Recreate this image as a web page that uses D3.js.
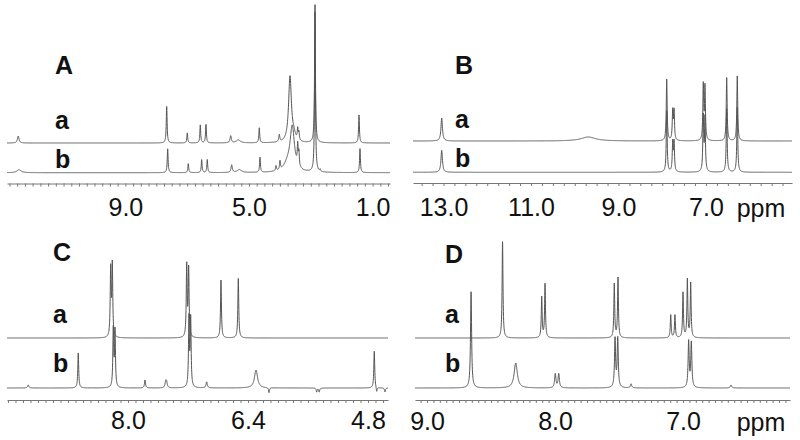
<!DOCTYPE html>
<html><head><meta charset="utf-8">
<script src="https://cdn.jsdelivr.net/npm/d3@7"></script>
<style>body{margin:0;background:#fff}svg{display:block}</style>
</head><body><svg id="c" width="800" height="440"></svg>
<script>
// ---------- data ----------
const panelNames = ["A", "B", "C", "D"];
const traceNames = ["a", "b"];
const tickLabelsA = [9.0, 5.0, 1.0];
const tickLabelsB = [13.0, 11.0, 9.0, 7.0];
const tickLabelsC = [8.0, 6.4, 4.8];
const tickLabelsD = [9.0, 8.0, 7.0];
const unitLabel = "ppm";
// peaks: [ppm, height, half-width (ppm)]
const peaksAa = [[12.466,7,0.03],[7.663,37,0.016],[6.997,10,0.016],[6.576,18,0.016],[6.392,18.5,0.016],
  [5.592,7,0.025],[5.346,3,0.08],[4.667,15,0.016],[4.019,7,0.02],[3.673,66,0.055],[3.55,6,0.06],
  [3.424,11,0.016],[3.385,8,0.016],[2.864,138,0.016],[1.44,28,0.016]];
const peaksAb = [[12.443,3,0.08],[7.631,24,0.016],[6.964,9,0.016],[6.531,13,0.016],[6.35,13,0.016],
  [5.56,7.5,0.025],[5.314,3,0.08],[4.644,15,0.016],[4.126,5,0.016],[3.997,8.5,0.016],[3.60,44,0.085],
  [3.75,7,0.15],[3.424,20,0.016],[3.385,14,0.016],[2.864,160,0.016],[2.70,2,0.016],[1.408,24,0.016]];
const peaksBa = [[13.041,23,0.02],[9.69,4,0.2],[7.898,62,0.012],[7.761,29,0.012],[7.73,29,0.012],
  [7.062,55,0.012],[7.023,53,0.012],[6.527,64,0.012],[6.285,65,0.012]];
const peaksBb = [[13.041,22,0.02],[7.898,62,0.012],[7.761,29,0.012],[7.73,29,0.012],
  [7.062,55,0.012],[7.023,53,0.012],[6.527,64,0.012],[6.285,65,0.012]];
const peaksCa = [[8.231,68,0.007],[8.209,72,0.007],[7.217,72,0.007],[7.191,68,0.007],[6.76,58,0.007],[6.529,60,0.007]];
const peaksCb = [[9.33,3,0.01],[8.663,35,0.007],[8.196,58,0.007],[8.173,56,0.007],[7.773,8,0.008],[7.497,6,0.01],
  [7.485,5,0.01],[7.187,69,0.007],[7.164,68,0.007],[6.951,6,0.01],[6.293,18,0.025],[6.12,-5,0.007],
  [5.484,-4,0.007],[5.45,-4,0.007],[4.716,37,0.007],[4.684,-5,0.007],[4.573,-4,0.007]];
const peaksDa = [[8.41,97,0.004],[8.104,41,0.004],[8.078,54,0.004],[7.537,54,0.004],[7.508,60,0.004],
  [7.096,23,0.004],[7.063,23,0.004],[7.0,45,0.004],[6.966,58,0.004],[6.94,55,0.004]];
const peaksDb = [[8.656,97,0.005],[8.307,25,0.015],[7.998,14,0.006],[7.971,14,0.006],[7.531,49,0.005],
  [7.51,49,0.005],[7.406,4,0.006],[6.956,46,0.005],[6.935,45,0.005],[6.625,3,0.006]];

// ---------- layout ----------
const panels = [
  {name: panelNames[0], dom: [12.83, 0.437], rng: [7, 390], step: 0.25, labels: tickLabelsA, traces: [peaksAa, peaksAb],
   base: [143, 172.7], axisY: 183.5, lblX: 55, nameY: 74, traceLblY: [129, 168], tickY: 217, unit: false},
  {name: panelNames[1], dom: [13.697, 5.034], rng: [413, 792], step: 0.25, labels: tickLabelsB, traces: [peaksBa, peaksBb],
   base: [141, 172.3], axisY: 183, lblX: 455, nameY: 74, traceLblY: [128, 167], tickY: 217, unit: true},
  {name: panelNames[2], dom: [9.613, 4.533], rng: [7, 388], step: 0.1, labels: tickLabelsC, traces: [peaksCa, peaksCb],
   base: [338, 388], axisY: 400, lblX: 53, nameY: 261, traceLblY: [323, 372], tickY: 430, unit: false},
  {name: panelNames[3], dom: [9.094, 6.164], rng: [415, 790], step: 0.05, labels: tickLabelsD, traces: [peaksDa, peaksDb],
   base: [338, 388], axisY: 400, lblX: 445, nameY: 263, traceLblY: [323, 372], tickY: 431, unit: true}
];

const svg = d3.select("#c");
const FONT = "'Liberation Sans', Arial, sans-serif";

function spectrum(peaks, x) {
  const [p0, p1] = x.domain();
  const n = Math.round(Math.abs(x(p1) - x(p0)) * 8);
  return d3.range(n + 1).map(i => {
    const ppm = p0 + (p1 - p0) * i / n;
    let v = 0;
    for (const [c, h, w] of peaks) { const d = (ppm - c) / w; v += h / (1 + d * d); }
    return {ppm, v};
  });
}

panels.forEach(p => {
  const x = d3.scaleLinear().domain(p.dom).range(p.rng);
  const g = svg.append("g");

  p.traces.forEach((peaks, i) => {
    const y = d3.scaleLinear().domain([0, 100]).range([p.base[i], p.base[i] - 100]);
    const line = d3.line().x(d => x(d.ppm)).y(d => y(d.v));
    g.append("path").datum(spectrum(peaks, x)).attr("d", line)
      .attr("fill", "none").attr("stroke", "#555").attr("stroke-width", 1);
    g.append("text").attr("x", p.lblX).attr("y", p.traceLblY[i]).text(traceNames[i])
      .attr("font-family", FONT).attr("font-weight", "bold").attr("font-size", 25).attr("fill", "#111");
  });

  g.append("text").attr("x", p.lblX).attr("y", p.nameY).text(p.name)
    .attr("font-family", FONT).attr("font-weight", "bold").attr("font-size", 25).attr("fill", "#111");

  const lo = Math.min(...p.dom), hi = Math.max(...p.dom);
  const minor = d3.range(Math.ceil(lo / p.step - 1e-6), Math.floor(hi / p.step + 1e-6) + 1).map(k => +(k * p.step).toFixed(3));
  const axMinor = g.append("g").attr("transform", `translate(0,${p.axisY})`)
    .call(d3.axisBottom(x).tickValues(minor).tickSize(3).tickSizeOuter(0).tickFormat(""));
  axMinor.selectAll("path,line").attr("stroke", "#777");

  const axLab = g.append("g").attr("transform", `translate(0,${p.axisY})`)
    .call(d3.axisBottom(x).tickValues(p.labels).tickSize(0).tickPadding(p.tickY - p.axisY - 19).tickFormat(d3.format(".1f")));
  axLab.select(".domain").remove();
  axLab.selectAll("text").attr("font-family", FONT).attr("font-size", 25).attr("fill", "#111");

  if (p.unit) {
    g.append("text").attr("x", 761).attr("y", p.tickY).attr("text-anchor", "middle").text(unitLabel)
      .attr("font-family", FONT).attr("font-size", 25).attr("fill", "#111");
  }
});
</script></body></html>
